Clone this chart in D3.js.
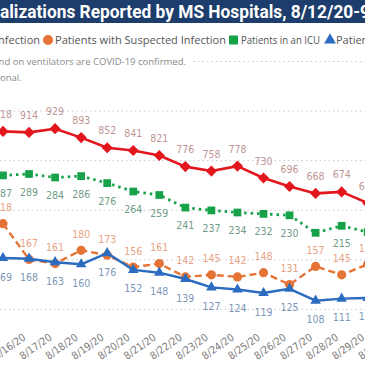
<!DOCTYPE html>
<html><head><meta charset="utf-8">
<script src="https://cdn.jsdelivr.net/npm/d3@7"></script>
<style>html,body{margin:0;padding:0;background:#fff;overflow:hidden}</style>
</head><body><svg id="c" width="365" height="365"></svg>
<script>
// ---- data ----
const dates = ["8/15/20","8/16/20","8/17/20","8/18/20","8/19/20","8/20/20","8/21/20","8/22/20","8/23/20","8/24/20","8/25/20","8/26/20","8/27/20","8/28/20","8/29/20","8/30/20"];
const confirmed   = [918,914,929,893,852,841,821,776,758,778,730,696,668,674,629];
const suspected   = [218,167,161,180,173,156,161,142,145,142,148,131,157,145,160];
const icu         = [287,289,284,286,276,264,259,241,237,234,232,230,205,215,206];
const ventilators = [169,168,163,160,176,152,148,139,127,124,119,125,108,111,112];
const icuHiddenLabels = ["8/27/20","8/29/20"];
const gridTicks = [200,400,600,800,1000,1200];
const titleText = "alizations Reported by MS Hospitals, 8/12/20-9";
const legendItems = ["Patients with Confirmed Infection","Patients with Suspected Infection","Patients in an ICU","Patients on Ventilators"];
const noteText = "nd on ventilators are COVID-19 confirmed.";
const note2Text = "onal.";

// ---- drawing ----
const W = 365, H = 365;
const svg = d3.select("#c");
const labelFont = "'Liberation Sans Narrow','DejaVu Sans Condensed',Roboto,sans-serif";
const uiFont = "'Open Sans','Noto Sans',sans-serif";

const x = d3.scalePoint().domain(dates).range([3, 3 + 26.05 * (dates.length - 1)]);
const yR = d3.scaleLinear().domain([0, 1200]).range([359, 61.5]);
const yL = d3.scaleLinear().domain([0, 400]).range([376.3, 96.3]);

// gridlines
svg.append("g").selectAll("line").data(gridTicks).join("line")
  .attr("x1", 0).attr("x2", W)
  .attr("y1", d => yR(d)).attr("y2", d => yR(d))
  .attr("stroke", "#c9c9c9").attr("stroke-width", 1)
  .attr("stroke-dasharray", "1.5,3");

// title bar
svg.append("rect").attr("x", 0).attr("y", 0).attr("width", W).attr("height", 23).attr("fill", "#1d3d6c");
svg.append("text").text(titleText)
  .attr("x", 0).attr("y", 18)
  .attr("font-family", "Roboto,'DejaVu Sans',sans-serif").attr("font-weight", "bold")
  .attr("font-size", 17.5).attr("fill", "#fff")
  .attr("textLength", 370).attr("lengthAdjust", "spacingAndGlyphs");

// legend
const lg = svg.append("g").attr("font-family", uiFont).attr("font-size", 11).attr("fill", "#555");
lg.append("text").text(legendItems[0]).attr("x", 40).attr("y", 44).attr("text-anchor", "end");
lg.append("path").attr("d", d3.symbol(d3.symbolCircle, 80)()).attr("transform", "translate(48,40)").attr("fill", "#e57336");
lg.append("text").text(legendItems[1]).attr("x", 55).attr("y", 44).attr("textLength", 171).attr("lengthAdjust", "spacingAndGlyphs");
lg.append("path").attr("d", d3.symbol(d3.symbolSquare, 81)()).attr("transform", "translate(233.5,40)").attr("fill", "#17a24a");
lg.append("text").text(legendItems[2]).attr("x", 241).attr("y", 44).attr("textLength", 79).attr("lengthAdjust", "spacingAndGlyphs");
lg.append("path").attr("d", d3.symbol(d3.symbolTriangle, 60)()).attr("transform", "translate(330,40)").attr("fill", "#2b6cc0");
lg.append("text").text(legendItems[3]).attr("x", 336).attr("y", 44);

// notes
svg.append("rect").attr("x", 0).attr("y", 55).attr("width", 190).attr("height", 14).attr("fill", "#fff");
svg.append("text").text(noteText).attr("x", 186).attr("y", 65).attr("text-anchor", "end")
  .attr("font-family", uiFont).attr("font-size", 9.5).attr("fill", "#8a8a8a");
svg.append("text").text(note2Text).attr("x", 0).attr("y", 81)
  .attr("font-family", uiFont).attr("font-size", 9.5).attr("fill", "#8a8a8a");

// x axis
const ax = svg.append("g").attr("transform", "translate(0,339)")
  .call(d3.axisBottom(x).tickSize(0));
ax.select(".domain").remove();
ax.selectAll("text")
  .attr("x", 0).attr("y", 0).attr("dy", 0)
  .attr("text-anchor", "end")
  .attr("transform", "translate(-3,0) rotate(-35)")
  .attr("font-family", labelFont).attr("font-size", 10.5).attr("fill", "#7a7a7a");

// series
const seriesDefs = [
  {vals: confirmed, y: yR, color: "#e3161d", dash: null, width: 2.6, sym: "diamond", lab: "#bf9595", off: -13.5, hide: []},
  {vals: icu, y: yL, color: "#17a24a", dash: "2.5,4", width: 2.8, sym: "square", lab: "#6f9c88", off: 21.5, hide: icuHiddenLabels},
  {vals: suspected, y: yL, color: "#e57336", dash: "7,4", width: 2.4, sym: "circle", lab: "#e9a283", off: -12.5, hide: []},
  {vals: ventilators, y: yL, color: "#2b6cc0", dash: null, width: 2.4, sym: "triangle", lab: "#7d96b8", off: 22.5, hide: []}
];
const symGen = {
  diamond: d3.symbol(d3.symbolSquare, 62)(),
  square: d3.symbol(d3.symbolSquare, 60)(),
  circle: d3.symbol(d3.symbolCircle, 66)(),
  triangle: d3.symbol(d3.symbolTriangle, 48)()
};
const labelLayer = [];
seriesDefs.forEach(s => {
  const pts = s.vals.map((v, i) => ({d: dates[i], v}));
  const line = d3.line().x(p => x(p.d)).y(p => s.y(p.v));
  const g = svg.append("g");
  g.append("path").datum(pts).attr("d", line).attr("fill", "none")
    .attr("stroke", s.color).attr("stroke-width", s.width)
    .attr("stroke-dasharray", s.dash).attr("stroke-linejoin", "round");
  g.selectAll("path.m").data(pts).join("path").attr("class", "m")
    .attr("d", symGen[s.sym])
    .attr("transform", p => `translate(${x(p.d)},${s.y(p.v)})` + (s.sym === "diamond" ? " rotate(45)" : ""))
    .attr("fill", s.color);
  labelLayer.push({s, pts});
});
labelLayer.forEach(({s, pts}) => {
  svg.append("g").selectAll("text").data(pts.filter(p => !s.hide.includes(p.d))).join("text")
    .attr("x", p => x(p.d)).attr("y", p => s.y(p.v) + s.off)
    .attr("text-anchor", "middle")
    .attr("font-family", labelFont).attr("font-size", 10.5)
    .attr("fill", s.lab)
    .text(p => p.v);
});
</script>
</body></html>
